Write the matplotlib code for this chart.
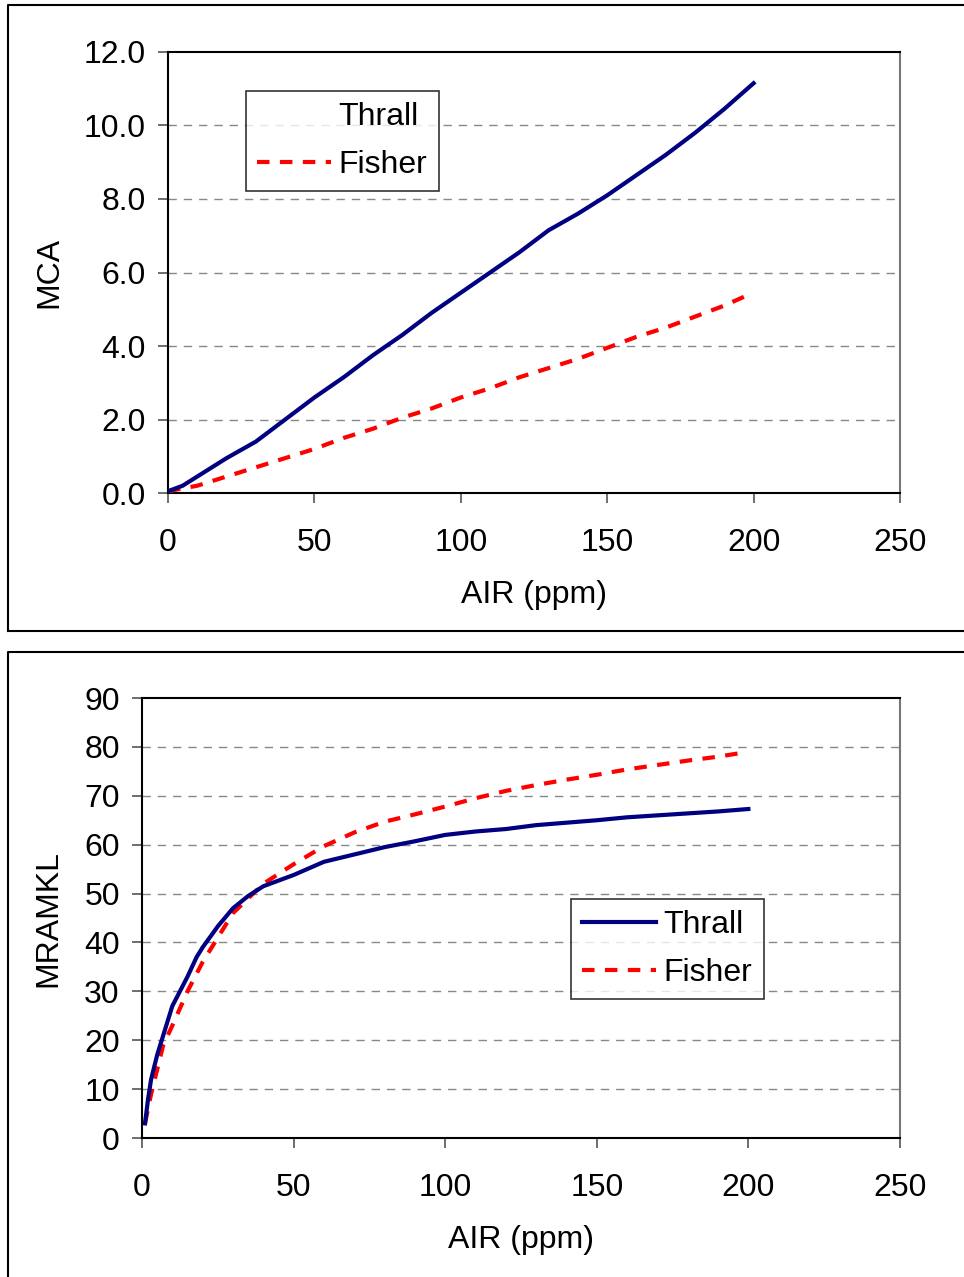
import matplotlib
matplotlib.use("Agg")
import matplotlib.pyplot as plt
from matplotlib.lines import Line2D

plt.rcParams['font.family'] = ['Liberation Sans', 'DejaVu Sans']

# --- top panel: MCA vs AIR ---
mca_x = [0, 5, 10, 20, 30, 40, 50, 60, 70, 80, 90, 100, 110, 120, 130, 140, 150, 160, 170, 180, 190, 200]
mca_thrall = [0.05, 0.2, 0.45, 0.95, 1.4, 2.0, 2.6, 3.15, 3.75, 4.3, 4.9, 5.45, 6.0, 6.55, 7.15,
              7.6, 8.1, 8.65, 9.2, 9.8, 10.45, 11.15]
mca_fx = [0, 10, 20, 30, 40, 50, 60, 70, 80, 90, 100, 110, 120, 130, 140, 150, 160, 170, 180, 190, 197]
mca_fisher = [0.05, 0.2, 0.45, 0.7, 0.95, 1.2, 1.5, 1.75, 2.05, 2.3, 2.6, 2.85, 3.15, 3.4, 3.65,
              3.95, 4.25, 4.5, 4.8, 5.1, 5.35]

# --- bottom panel: MRAMKL vs AIR ---
mr_tx = [1, 2, 3, 5, 6, 10, 15, 18, 20, 25, 30, 35, 40, 50, 60, 70, 80, 90, 100, 110, 120,
         130, 140, 150, 160, 170, 180, 190, 200]
mr_thrall = [3, 8, 12, 17, 19, 27, 33, 37, 39, 43.3, 47, 49.5, 51.5, 53.8, 56.5, 58, 59.5, 60.7,
             62, 62.7, 63.2, 64, 64.5, 65, 65.6, 66, 66.4, 66.8, 67.3]
mr_fx = [1, 3, 5, 7, 10, 15, 20, 25, 30, 40, 50, 60, 70, 80, 90, 100, 110, 120, 130, 140, 150,
         160, 170, 180, 190, 198]
mr_fisher = [3, 9, 14, 19, 23, 30, 36, 41, 46, 52, 56, 59.7, 62.5, 64.7, 66.2, 67.8, 69.5, 71,
             72.2, 73.3, 74.3, 75.4, 76.3, 77.2, 78, 78.8]

NAVY = '#000080'
RED = '#ff0000'
FS = 23
DASH = (0, (3, 2.5))

fig = plt.figure(figsize=(9.64, 12.77), dpi=100)


def style_axes(ax, yticks, yfmt, ylabel, ylpad):
    ax.set_xlim(0, 250)
    ax.set_xticks([0, 50, 100, 150, 200, 250])
    ax.set_ylim(yticks[0], yticks[-1])
    ax.set_yticks(yticks)
    ax.set_yticklabels([yfmt.format(v) for v in yticks])
    ax.tick_params(labelsize=FS, length=7, width=1.2, color='#555555')
    ax.tick_params(axis='x', pad=18)
    ax.tick_params(axis='y', pad=9)
    for v in yticks[1:-1]:
        ax.axhline(v, color='#888888', lw=1, ls=(0, (6, 5)), zorder=0)
    for s in ax.spines.values():
        s.set_linewidth(1.5)
    ax.spines['right'].set_color('#777777')
    ax.set_xlabel('AIR (ppm)', fontsize=FS, labelpad=16)
    ax.set_ylabel(ylabel, fontsize=FS, labelpad=ylpad)


def add_legend(ax, thrall_color, anchor):
    handles = [Line2D([], [], color=thrall_color, lw=3),
               Line2D([], [], color=RED, lw=3, ls=DASH)]
    leg = ax.legend(handles, ['Thrall', 'Fisher'], loc='upper left', bbox_to_anchor=anchor,
                    fontsize=FS, frameon=True, fancybox=False, edgecolor='black',
                    handlelength=2.3, handletextpad=0.25, borderpad=0.35, labelspacing=0.55,
                    borderaxespad=0)
    leg.get_frame().set_linewidth(1.2)


# top
ax1 = fig.add_axes([0.1743, 0.6139, 0.7593, 0.3454])
ax1.plot(mca_x, mca_thrall, color=NAVY, lw=3, zorder=4)
ax1.plot(mca_fx, mca_fisher, color=RED, lw=3, ls=DASH, zorder=3)
style_axes(ax1, [0, 2, 4, 6, 8, 10, 12], '{:.1f}', 'MCA', 14)
add_legend(ax1, 'white', (0.1066, 0.9116))

# bottom
ax2 = fig.add_axes([0.1473, 0.1088, 0.7863, 0.3446])
ax2.plot(mr_tx, mr_thrall, color=NAVY, lw=3, zorder=4)
ax2.plot(mr_fx, mr_fisher, color=RED, lw=3, ls=DASH, zorder=3)
style_axes(ax2, list(range(0, 91, 10)), '{:d}', 'MRAMKL', 15)
add_legend(ax2, NAVY, (0.566, 0.543))

# outer panel frames (pixel-based, in figure fraction)
W, H = 964, 1277
fig.add_artist(Line2D([8 / W, 8 / W, 1.0], [1 - 631 / H, 1 - 5 / H, 1 - 5 / H],
                      transform=fig.transFigure, color='black', lw=1.5))
fig.add_artist(Line2D([8 / W, 1.0], [1 - 631 / H, 1 - 631 / H],
                      transform=fig.transFigure, color='black', lw=1.5))
fig.add_artist(Line2D([8 / W, 8 / W, 1.0], [0.0, 1 - 652 / H, 1 - 652 / H],
                      transform=fig.transFigure, color='black', lw=1.5))

fig.savefig('out.png', dpi=100)
